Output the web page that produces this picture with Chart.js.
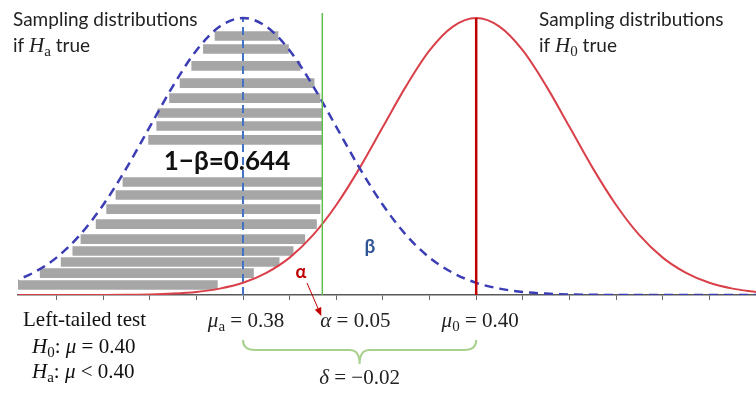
<!DOCTYPE html>
<html>
<head>
<meta charset="utf-8">
<script src="https://cdn.jsdelivr.net/npm/chart.js@4.4.1/dist/chart.umd.min.js"></script>
<style>
  body { margin: 0; background: #fff; }
</style>
</head>
<body>
<canvas id="chart" width="756" height="394"></canvas>
<script>
// sample mean axis
const xGrid = [0.360, 0.362, 0.364, 0.366, 0.368, 0.370, 0.372, 0.374, 0.376, 0.378,
  0.380, 0.382, 0.384, 0.386, 0.388, 0.390, 0.392, 0.394, 0.396, 0.398,
  0.400, 0.402, 0.404, 0.406, 0.408, 0.410, 0.412, 0.414, 0.416, 0.418,
  0.420, 0.422, 0.424];
// relative height of each curve (peak = 1)
const haDensity = [0.044, 0.080, 0.135, 0.216, 0.325, 0.458, 0.607, 0.755, 0.883, 0.969,
  1.000, 0.969, 0.883, 0.755, 0.607, 0.458, 0.325, 0.216, 0.135, 0.080,
  0.044, 0.023, 0.011, 0.005, 0.002, 0.001, 0, 0, 0, 0,
  0, 0, 0];
const h0Density = [0, 0, 0, 0.0001, 0.0003, 0.001, 0.002, 0.005, 0.011, 0.023,
  0.044, 0.080, 0.135, 0.216, 0.325, 0.458, 0.607, 0.755, 0.883, 0.969,
  1.000, 0.969, 0.883, 0.755, 0.607, 0.458, 0.325, 0.216, 0.135, 0.080,
  0.044, 0.023, 0.011];

const muA = 0.38;
const mu0 = 0.40;
const critical = 0.3868;

// gray stripes for the 1-beta area
const shadeLevels = [0.935, 0.888, 0.827, 0.765, 0.711, 0.657, 0.610, 0.560,
  0.408, 0.361, 0.310, 0.256, 0.202, 0.159, 0.119, 0.079, 0.036];
const shadeLeft = [0.3776, 0.3766, 0.3756, 0.3746, 0.3737, 0.3727, 0.3726, 0.3719,
  0.3697, 0.3691, 0.3683, 0.3674, 0.3661, 0.3654, 0.3644, 0.3626, 0.3607];
const shadeRight = [0.3830, 0.3839, 0.3849, 0.3861, 0.3866, 0.3868, 0.3868, 0.3868,
  0.3868, 0.3868, 0.3866, 0.3863, 0.3853, 0.3843, 0.3831, 0.3809, 0.3778];

const tickValues = [0.364, 0.368, 0.372, 0.376, 0.380, 0.384, 0.388, 0.392,
  0.396, 0.400, 0.404, 0.408, 0.412, 0.416, 0.420, 0.424];

const SANS = '"Lato", "Open Sans", sans-serif';
const SERIF = '"Liberation Serif", "DejaVu Serif", serif';

function drawRuns(ctx, runs, x, y, align) {
  let w = 0;
  runs.forEach((r) => { ctx.font = r[1]; w += ctx.measureText(r[0]).width; });
  let cx = align === "center" ? x - w / 2 : x;
  runs.forEach((r) => {
    ctx.font = r[1];
    ctx.fillText(r[0], cx, y + (r[2] || 0));
    cx += ctx.measureText(r[0]).width;
  });
}

const annotations = {
  id: "annotations",
  afterDatasetsDraw(chart) {
    const { ctx, scales: { x } } = chart;
    const it = "italic 21px " + SERIF;
    const rm = "21px " + SERIF;
    const sub = "15px " + SERIF;
    const title = "19px " + SANS;
    ctx.save();
    ctx.textBaseline = "alphabetic";
    ctx.textAlign = "left";
    ctx.fillStyle = "#222";

    // titles
    ctx.font = title;
    ctx.fillText("Sampling distributions", 13, 26);
    ctx.fillText("Sampling distributions", 539, 26);
    drawRuns(ctx, [["if ", title], ["H", it], ["a", sub, 4], [" true", title]], 13, 52);
    drawRuns(ctx, [["if ", title], ["H", it], ["0", sub, 4], [" true", title]], 539, 52);

    // power label
    ctx.fillStyle = "#111";
    drawRuns(ctx, [["1\u2212\u03b2=0.644", "bold 26px " + SANS]], 227, 170, "center");

    // alpha / beta
    ctx.fillStyle = "#C00000";
    drawRuns(ctx, [["\u03b1", "bold 18px " + SANS]], 301, 278, "center");
    ctx.fillStyle = "#2F5597";
    drawRuns(ctx, [["\u03b2", "bold 19px " + SANS]], 370, 253, "center");

    // arrow from alpha to axis
    const tipX = x.getPixelForValue(critical) - 1;
    const tipY = 316;
    ctx.strokeStyle = "#C00000";
    ctx.fillStyle = "#C00000";
    ctx.lineWidth = 1;
    ctx.beginPath();
    ctx.moveTo(307, 283);
    ctx.lineTo(tipX - 3, tipY - 7);
    ctx.stroke();
    const ang = Math.atan2(tipY - 283, tipX - 307);
    ctx.beginPath();
    ctx.moveTo(tipX, tipY);
    ctx.lineTo(tipX - 9 * Math.cos(ang - 0.4), tipY - 9 * Math.sin(ang - 0.4));
    ctx.lineTo(tipX - 9 * Math.cos(ang + 0.4), tipY - 9 * Math.sin(ang + 0.4));
    ctx.closePath();
    ctx.fill();

    // axis labels
    ctx.fillStyle = "#222";
    drawRuns(ctx, [["\u03bc", it], ["a", sub, 4], [" = 0.38", rm]], x.getPixelForValue(muA) + 3, 327, "center");
    drawRuns(ctx, [["\u03b1", it], [" = 0.05", rm]], x.getPixelForValue(critical) - 2, 327);
    drawRuns(ctx, [["\u03bc", it], ["0", sub, 4], [" = 0.40", rm]], x.getPixelForValue(mu0) + 4, 327, "center");

    // brace between the two means
    const bx0 = x.getPixelForValue(muA);
    const bx1 = x.getPixelForValue(mu0);
    const bm = (bx0 + bx1) / 2;
    ctx.strokeStyle = "#A9D18E";
    ctx.lineWidth = 2;
    ctx.beginPath();
    ctx.moveTo(bx0, 340);
    ctx.quadraticCurveTo(bx0, 350, bx0 + 12, 350);
    ctx.lineTo(bm - 10, 350);
    ctx.quadraticCurveTo(bm, 350, bm, 364);
    ctx.quadraticCurveTo(bm, 350, bm + 10, 350);
    ctx.lineTo(bx1 - 12, 350);
    ctx.quadraticCurveTo(bx1, 350, bx1, 340);
    ctx.stroke();
    drawRuns(ctx, [["\u03b4", it], [" = \u22120.02", rm]], bm, 384, "center");

    // test description
    ctx.fillStyle = "#111";
    drawRuns(ctx, [["Left-tailed test", "21px " + SERIF]], 23, 326);
    drawRuns(ctx, [["H", it], ["0", sub, 4], [": ", rm], ["\u03bc", it], [" = 0.40", rm]], 32, 353);
    drawRuns(ctx, [["H", it], ["a", sub, 4], [": ", rm], ["\u03bc", it], [" < 0.40", rm]], 32, 378);
    ctx.restore();
  }
};

const pts = (ys) => xGrid.map((v, i) => ({ x: v, y: ys[i] }));

new Chart(document.getElementById("chart"), {
  type: "line",
  data: {
    datasets: [
      {
        type: "bar",
        indexAxis: "y",
        data: shadeLevels.map((h, i) => ({ y: h, x: [shadeLeft[i], shadeRight[i]] })),
        backgroundColor: "#A6A6A6",
        barThickness: 9,
        order: 10,
      },
      {
        data: pts(h0Density),
        borderColor: "#D9404A",
        borderWidth: 2,
        cubicInterpolationMode: "monotone",
        pointRadius: 0,
        order: 3,
      },
      {
        data: pts(haDensity),
        borderColor: "#3B3DB5",
        borderWidth: 2.5,
        borderDash: [9, 6],
        cubicInterpolationMode: "monotone",
        pointRadius: 0,
        order: 2,
      },
      {
        data: [{ x: muA, y: 0 }, { x: muA, y: 1 }],
        borderColor: "#4472C4",
        borderWidth: 2,
        borderDash: [8, 5],
        pointRadius: 0,
        order: 4,
      },
      {
        data: [{ x: mu0, y: 0 }, { x: mu0, y: 1 }],
        borderColor: "#C00000",
        borderWidth: 2.5,
        pointRadius: 0,
        order: 1,
      },
      {
        data: [{ x: critical, y: 0 }, { x: critical, y: 1.018 }],
        borderColor: "#62BD4F",
        borderWidth: 1.5,
        pointRadius: 0,
        order: 1,
      },
    ],
  },
  options: {
    responsive: false,
    animation: false,
    layout: { padding: { left: 18, right: 0, top: 0, bottom: 94 } },
    plugins: { legend: { display: false }, tooltip: { enabled: false } },
    scales: {
      x: {
        type: "linear",
        offset: false,
        min: 0.3607,
        max: 0.424,
        afterBuildTicks: (scale) => {
          scale.ticks = tickValues.map((v) => ({ value: v }));
        },
        ticks: { display: false },
        grid: { offset: false, drawOnChartArea: false, drawTicks: true, tickLength: 5, color: "#666", lineWidth: 1 },
        border: { display: true, color: "#595959", width: 1.5 },
      },
      y: {
        type: "linear",
        display: false,
        offset: false,
        grid: { offset: false },
        min: 0,
        max: 1.065,
      },
    },
  },
  plugins: [annotations],
});
</script>
</body>
</html>
